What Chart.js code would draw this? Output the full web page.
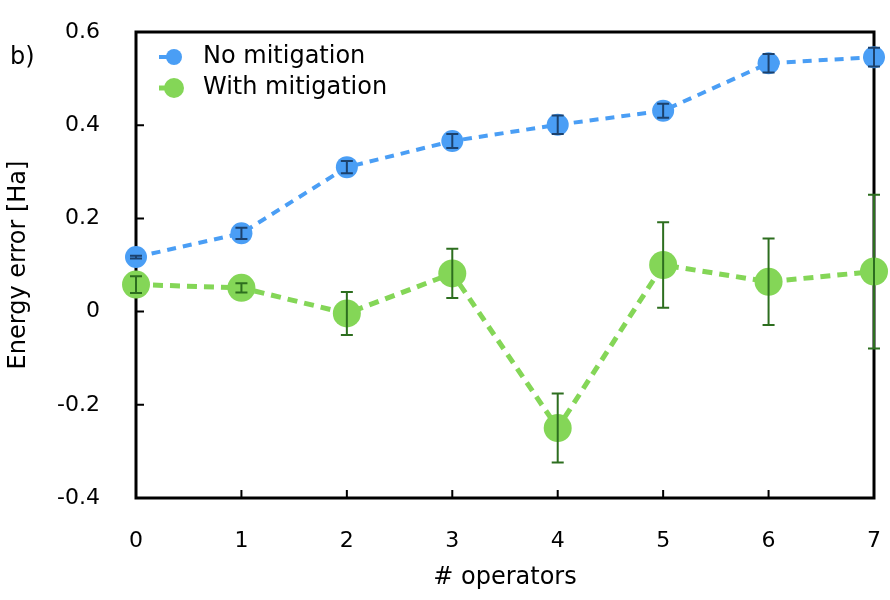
<!DOCTYPE html>
<html>
<head>
<meta charset="utf-8">
<script src="https://cdn.jsdelivr.net/npm/chart.js@4/dist/chart.umd.min.js"></script>
<style>
  html, body { margin: 0; padding: 0; background: #fff; }
  #wrap { width: 890px; height: 600px; }
</style>
</head>
<body>
<div id="wrap"><canvas id="myChart" width="890" height="600"></canvas></div>
<script>
// data
const operators = [0, 1, 2, 3, 4, 5, 6, 7];
const noMitigation = [0.117, 0.168, 0.310, 0.366, 0.401, 0.431, 0.533, 0.546];
const noMitigationErr = [0.003, 0.012, 0.013, 0.015, 0.020, 0.015, 0.020, 0.020];
const withMitigation = [0.058, 0.051, -0.004, 0.082, -0.250, 0.100, 0.064, 0.086];
const withMitigationErr = [0.018, 0.010, 0.046, 0.053, 0.074, 0.092, 0.093, 0.165];
const yTicks = [-0.4, -0.2, 0, 0.2, 0.4, 0.6];

const FONT = "'DejaVu Sans', 'Liberation Sans', Arial, sans-serif";
const blue = 'rgb(74, 158, 245)';
const green = 'rgb(132, 214, 87)';
const blueErr = 'rgb(28, 66, 110)';
const greenErr = 'rgb(45, 110, 31)';

function pts(ys) {
    return operators.map((x, i) => ({ x: x, y: ys[i] }));
}

// no extra padding for the end labels, the area is fixed
function noPad(scale) {
    scale.paddingTop = 0;
    scale.paddingBottom = 0;
    scale.paddingLeft = 0;
    scale.paddingRight = 0;
}

// frame + inward ticks, under the data
const framePlugin = {
    id: 'frame',
    beforeDatasetsDraw(chart) {
        const ctx = chart.ctx;
        const a = chart.chartArea;
        const xs = chart.scales.x, ys = chart.scales.y;
        ctx.save();
        ctx.strokeStyle = '#000';
        ctx.lineWidth = 2;
        ctx.beginPath();
        yTicks.forEach(v => {
            const py = ys.getPixelForValue(v);
            ctx.moveTo(a.left, py);
            ctx.lineTo(a.left + 8, py);
        });
        operators.forEach(v => {
            const px = xs.getPixelForValue(v);
            ctx.moveTo(px, a.bottom);
            ctx.lineTo(px, a.bottom - 8);
        });
        ctx.stroke();
        ctx.lineWidth = 3;
        ctx.strokeRect(a.left, a.top, a.right - a.left, a.bottom - a.top);
        ctx.restore();
    }
};

// error bars on top of the points
const errorPlugin = {
    id: 'errors',
    afterDatasetsDraw(chart) {
        const ctx = chart.ctx;
        const xs = chart.scales.x, ys = chart.scales.y;
        const sets = [
            [noMitigation, noMitigationErr, blueErr],
            [withMitigation, withMitigationErr, greenErr]
        ];
        ctx.save();
        ctx.lineWidth = 2;
        sets.forEach(s => {
            ctx.strokeStyle = s[2];
            ctx.beginPath();
            operators.forEach((x, i) => {
                const px = xs.getPixelForValue(x);
                const top = ys.getPixelForValue(s[0][i] + s[1][i]);
                const bot = ys.getPixelForValue(s[0][i] - s[1][i]);
                ctx.moveTo(px, top);
                ctx.lineTo(px, bot);
                ctx.moveTo(px - 6, top);
                ctx.lineTo(px + 6, top);
                ctx.moveTo(px - 6, bot);
                ctx.lineTo(px + 6, bot);
            });
            ctx.stroke();
        });
        ctx.restore();
    }
};

// legend, axis titles and panel letter
const textPlugin = {
    id: 'texts',
    afterDraw(chart) {
        const ctx = chart.ctx;
        const a = chart.chartArea;
        ctx.save();
        ctx.fillStyle = '#000';
        ctx.font = '24px ' + FONT;
        ctx.textBaseline = 'middle';
        ctx.textAlign = 'left';
        ctx.fillText('b)', 10, 58);

        const items = [
            ['No mitigation', blue, 8, 4, 57],
            ['With mitigation', green, 10, 5, 88]
        ];
        items.forEach(it => {
            ctx.strokeStyle = it[1];
            ctx.lineWidth = it[3];
            ctx.beginPath();
            ctx.moveTo(159, it[4]);
            ctx.lineTo(175, it[4]);
            ctx.stroke();
            ctx.fillStyle = it[1];
            ctx.beginPath();
            ctx.arc(174, it[4], it[2], 0, Math.PI * 2);
            ctx.fill();
            ctx.fillStyle = '#000';
            ctx.fillText(it[0], 203, it[4]);
        });

        ctx.textAlign = 'center';
        ctx.fillText('# operators', (a.left + a.right) / 2, 578);
        ctx.translate(19, 265);
        ctx.rotate(-Math.PI / 2);
        ctx.fillText('Energy error [Ha]', 0, 0);
        ctx.restore();
    }
};

const data = {
    datasets: [{
        label: 'No mitigation',
        data: pts(noMitigation),
        borderColor: blue,
        backgroundColor: blue,
        borderWidth: 4,
        borderDash: [9, 7],
        pointRadius: 11,
        pointBorderWidth: 0,
        pointBackgroundColor: blue,
        showLine: true,
        clip: false
    }, {
        label: 'With mitigation',
        data: pts(withMitigation),
        borderColor: green,
        backgroundColor: green,
        borderWidth: 5,
        borderDash: [10, 7],
        pointRadius: 14,
        pointBorderWidth: 0,
        pointBackgroundColor: green,
        showLine: true,
        clip: false
    }]
};

const config = {
    type: 'scatter',
    data: data,
    options: {
        responsive: false,
        animation: false,
        layout: { padding: { top: 32, right: 16, left: 0, bottom: 0 } },
        plugins: {
            legend: { display: false },
            tooltip: { enabled: false }
        },
        scales: {
            x: {
                type: 'linear',
                min: 0,
                max: 7,
                afterFit(scale) { scale.height = 102; noPad(scale); },
                afterBuildTicks(scale) { scale.ticks = operators.map(v => ({ value: v })); },
                grid: { display: false, drawTicks: false },
                border: { display: false },
                ticks: {
                    color: '#000',
                    padding: 30,
                    font: { family: FONT, size: 22 },
                    callback: v => String(v)
                }
            },
            y: {
                type: 'linear',
                min: -0.4,
                max: 0.6,
                afterFit(scale) { scale.width = 136; noPad(scale); },
                afterBuildTicks(scale) { scale.ticks = yTicks.map(v => ({ value: v })); },
                grid: { display: false, drawTicks: false },
                border: { display: false },
                ticks: {
                    color: '#000',
                    padding: 36,
                    font: { family: FONT, size: 22 },
                    callback: v => Math.abs(v) < 1e-9 ? '0' : (Math.round(v * 10) / 10).toFixed(1)
                }
            }
        }
    },
    plugins: [framePlugin, errorPlugin, textPlugin]
};

const myChart = new Chart(document.getElementById('myChart'), config);
</script>
</body>
</html>
